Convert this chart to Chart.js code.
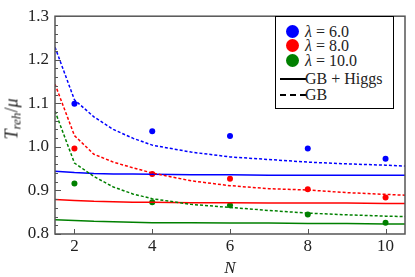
<!DOCTYPE html>
<html>
<head>
<meta charset="utf-8">
<script src="https://cdn.jsdelivr.net/npm/chart.js@4"></script>
<style>
    body { margin: 0; background: #fff; }
    #wrap { position: relative; width: 415px; height: 277px; font-family: "Liberation Serif", "Times New Roman", "DejaVu Serif", serif; }
    #legend {
        position: absolute; left: 275px; top: 16px; width: 117px; height: 91px;
        border: 1px solid #000; background: #fff; font-size: 16px; color: #222;
    }
    #legend .row { position: absolute; left: 0; height: 16px; line-height: 16px; white-space: nowrap; }
    #legend .dot { position: absolute; left: 10px; top: 1px; width: 13px; height: 13px; border-radius: 50%; }
    #legend .ln { position: absolute; left: 4px; top: 7px; width: 26px; height: 0; border-top: 2px solid #000; }
    #legend .ln.dash { border-top-style: dashed; }
    #legend .txt { position: absolute; left: 29px; top: 0; }
    #ytitle {
        position: absolute; left: 13px; top: 119px; transform: translate(-50%, -50%) rotate(-90deg);
        font-size: 18px; color: #222; white-space: nowrap;
    }
    #ytitle sub { font-size: 13px; vertical-align: -3px; }
</style>
</head>
<body>
<div id="wrap">
    <canvas id="chart" width="415" height="277"></canvas>
    <div id="ytitle"><i>T</i><sub><i>reh</i></sub>/<i>μ</i></div>
    <div id="legend">
        <div class="row" style="top:7px"><span class="dot" style="background:#0000ff"></span><span class="txt"><i>λ</i> = 6.0</span></div>
        <div class="row" style="top:21px"><span class="dot" style="background:#ff0000"></span><span class="txt"><i>λ</i> = 8.0</span></div>
        <div class="row" style="top:36px"><span class="dot" style="background:#008000"></span><span class="txt"><i>λ</i> = 10.0</span></div>
        <div class="row" style="top:54px"><span class="ln"></span><span class="txt">GB + Higgs</span></div>
        <div class="row" style="top:70px"><span class="ln dash"></span><span class="txt">GB</span></div>
    </div>
</div>
<script>
// scatter points (numerical results)
const nPoints = [2, 4, 6, 8, 10];
const pts6  = [1.099, 1.036, 1.025, 0.996, 0.973];
const pts8  = [0.996, 0.938, 0.927, 0.903, 0.884];
const pts10 = [0.916, 0.873, 0.866, 0.845, 0.826];

// curves
const nCurve = [1.5, 2, 2.5, 3, 3.5, 4, 5, 6, 7, 8, 9, 10, 10.5];
const gb6  = [1.229, 1.108, 1.069, 1.040, 1.020, 1.004, 0.988, 0.977, 0.971, 0.965, 0.961, 0.958, 0.956];
const gb8  = [1.144, 1.026, 0.983, 0.965, 0.952, 0.940, 0.922, 0.911, 0.904, 0.901, 0.895, 0.891, 0.889];
const gb10 = [1.082, 0.963, 0.932, 0.908, 0.892, 0.881, 0.868, 0.861, 0.854, 0.848, 0.844, 0.841, 0.840];
const gbh6  = [0.944, 0.941, 0.939, 0.938, 0.938, 0.937, 0.936, 0.936, 0.935, 0.935, 0.935, 0.935, 0.935];
const gbh8  = [0.879, 0.877, 0.875, 0.874, 0.873, 0.873, 0.872, 0.872, 0.871, 0.871, 0.871, 0.870, 0.870];
const gbh10 = [0.833, 0.831, 0.829, 0.828, 0.827, 0.826, 0.826, 0.825, 0.825, 0.824, 0.824, 0.823, 0.823];

const xTicks = [2, 4, 6, 8, 10];

const BLUE = "#0000ff", RED = "#ff0000", GREEN = "#008000";
const SERIF = "'Liberation Serif', 'Times New Roman', 'DejaVu Serif', serif";

const zip = (xs, ys) => xs.map((x, i) => ({ x: x, y: ys[i] }));

function curve(ys, color, dashed) {
    return {
        data: zip(nCurve, ys),
        showLine: true,
        borderColor: color,
        borderWidth: 1.5,
        borderDash: dashed ? [3, 2] : [],
        pointRadius: 0,
        tension: 0,
        fill: false
    };
}

function dots(ys, color) {
    return {
        data: zip(nPoints, ys),
        showLine: false,
        backgroundColor: color,
        borderColor: color,
        pointRadius: 3,
        pointBorderWidth: 0
    };
}

// frame + inward ticks
const framePlugin = {
    id: "frame",
    afterDatasetsDraw(chart) {
        const ctx = chart.ctx;
        const a = chart.chartArea;
        const xs = chart.scales.x, ys = chart.scales.y;
        ctx.save();
        ctx.strokeStyle = "#555";
        ctx.lineWidth = 1;
        ys.ticks.forEach(t => {
            const py = Math.round(ys.getPixelForValue(t.value)) + 0.5;
            const major = Math.abs(t.value * 10 - Math.round(t.value * 10)) < 1e-6;
            ctx.beginPath();
            ctx.moveTo(a.left, py);
            ctx.lineTo(a.left + (major ? 6 : 3), py);
            ctx.stroke();
        });
        xs.ticks.forEach(t => {
            const px = Math.round(xs.getPixelForValue(t.value)) + 0.5;
            ctx.beginPath();
            ctx.moveTo(px, a.bottom);
            ctx.lineTo(px, a.bottom - 5);
            ctx.stroke();
        });
        ctx.lineWidth = 1.5;
        ctx.strokeRect(a.left, a.top, a.right - a.left, a.bottom - a.top);
        ctx.restore();
    }
};

new Chart(document.getElementById("chart"), {
    type: "scatter",
    data: {
        datasets: [
            curve(gb6, BLUE, true),
            curve(gb8, RED, true),
            curve(gb10, GREEN, true),
            curve(gbh6, BLUE, false),
            curve(gbh8, RED, false),
            curve(gbh10, GREEN, false),
            dots(pts6, BLUE),
            dots(pts8, RED),
            dots(pts10, GREEN)
        ]
    },
    options: {
        responsive: false,
        animation: false,
        layout: { padding: { left: 0, right: 10, top: 0, bottom: 0 } },
        plugins: { legend: { display: false }, tooltip: { enabled: false } },
        scales: {
            x: {
                type: "linear",
                min: 1.5,
                max: 10.5,
                afterBuildTicks: s => { s.ticks = xTicks.map(v => ({ value: v })); },
                afterFit: s => { s.height = 43; },
                grid: { display: false, drawTicks: false },
                border: { display: false },
                ticks: {
                    padding: 2,
                    color: "#222",
                    font: { family: SERIF, size: 17 }
                },
                title: {
                    display: true,
                    text: "N",
                    color: "#222",
                    padding: { top: 0, bottom: 0 },
                    font: { family: SERIF, size: 17, style: "italic", lineHeight: 1 }
                }
            },
            y: {
                min: 0.8,
                max: 1.3,
                afterFit: s => { s.width = 55; },
                grid: { display: false, drawTicks: false },
                border: { display: false },
                ticks: {
                    stepSize: 0.02,
                    autoSkip: false,
                    padding: 6,
                    color: "#222",
                    font: { family: SERIF, size: 17 },
                    callback: v => Math.abs(v * 10 - Math.round(v * 10)) < 1e-6 ? v.toFixed(1) : ""
                }
            }
        }
    },
    plugins: [framePlugin]
});
</script>
</body>
</html>
